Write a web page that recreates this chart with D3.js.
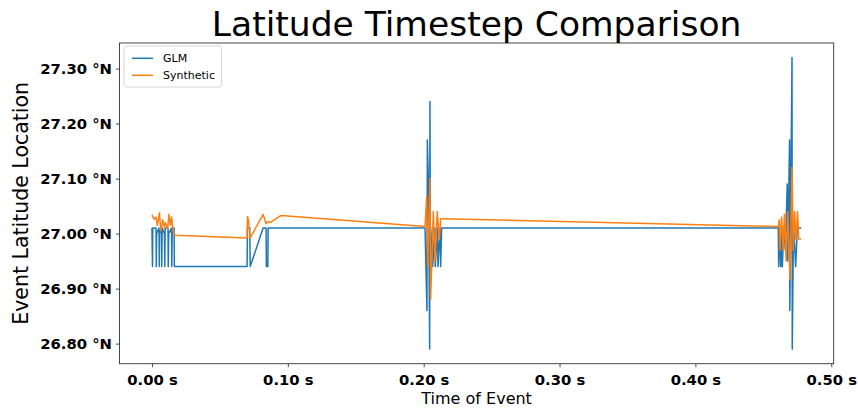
<!DOCTYPE html>
<html>
<head>
<meta charset="utf-8">
<script src="https://cdn.jsdelivr.net/npm/d3@7"></script>
<style>
  html, body { margin: 0; padding: 0; background: #fff; }
  svg { display: block; font-family: "DejaVu Sans", sans-serif; }
</style>
</head>
<body>
<svg id="chart" width="858" height="411"></svg>
<script>
// ---- data ----
const glmTime = [
  0.0000, 0.0004, 0.0006, 0.0030, 0.0032, 0.0034, 0.0052, 0.0054, 0.0056, 0.0070,
  0.0072, 0.0075, 0.0092, 0.0094, 0.0097, 0.0118, 0.0120, 0.0123, 0.0144, 0.0146,
  0.0149, 0.0163, 0.0165, 0.0700, 0.0703, 0.0720, 0.0723, 0.0818, 0.0840, 0.0842,
  0.0853, 0.0855,
  0.2010, 0.2024, 0.2027, 0.2036, 0.2044, 0.2046, 0.2050, 0.2064, 0.2066, 0.2083,
  0.2085, 0.2103, 0.2105, 0.2123, 0.2125, 0.2132,
  0.4610, 0.4613, 0.4620, 0.4628, 0.4635, 0.4640, 0.4650, 0.4662, 0.4676, 0.4680,
  0.4693, 0.4695, 0.4711, 0.4713, 0.4722, 0.4738, 0.4750, 0.4779
];
const glmLat = [
  27.01, 26.94, 27.01, 27.01, 26.94, 27.00, 27.01, 26.94, 27.00, 27.01,
  26.94, 27.01, 27.00, 26.94, 27.01, 27.01, 26.94, 27.00, 27.01, 26.94,
  27.01, 27.01, 26.94, 26.94, 27.01, 27.01, 26.94, 27.01, 27.01, 26.94,
  26.94, 27.01,
  27.01, 26.86, 27.17, 27.08, 26.79, 27.24, 26.94, 27.01, 26.94, 27.01,
  26.94, 27.01, 26.94, 27.01, 26.94, 27.01,
  27.01, 26.94, 27.01, 26.94, 27.00, 26.94, 27.01, 26.97, 27.09, 26.95,
  27.17, 26.86, 27.32, 26.79, 27.02, 26.94, 27.01, 27.01
];
const synTime = [
  0.0000, 0.0015, 0.0030, 0.0040, 0.0055, 0.0065, 0.0080, 0.0090, 0.0100, 0.0115,
  0.0125, 0.0135, 0.0145, 0.0155, 0.0170, 0.0700, 0.0703, 0.0712, 0.0723, 0.0818,
  0.0840, 0.0855, 0.0870, 0.0950,
  0.2010, 0.2022, 0.2029, 0.2046, 0.2051, 0.2071, 0.2083, 0.2100, 0.2115, 0.2125,
  0.2132,
  0.4610, 0.4618, 0.4622, 0.4635, 0.4645, 0.4655, 0.4668, 0.4680, 0.4696, 0.4711,
  0.4720, 0.4730, 0.4740, 0.4752, 0.4760, 0.4779
];
const synLat = [
  27.034, 27.026, 27.030, 27.015, 27.038, 27.005, 27.025, 27.012, 27.020, 27.008,
  27.035, 27.015, 27.030, 27.005, 26.997, 26.992, 27.031, 27.022, 26.992, 27.035,
  27.018, 27.022, 27.020, 27.033,
  27.013, 27.068, 26.940, 27.100, 26.880, 27.040, 26.950, 27.040, 26.990, 27.027,
  27.027,
  27.013, 27.025, 26.970, 27.030, 26.970, 27.035, 26.950, 27.040, 26.916, 27.120,
  26.970, 27.040, 26.990, 27.040, 26.990, 26.990
];
const xTicks = [0.0, 0.1, 0.2, 0.3, 0.4, 0.5];
const yTicks = [26.8, 26.9, 27.0, 27.1, 27.2, 27.3];
const seriesNames = ["GLM", "Synthetic"];
const seriesColors = ["#1f77b4", "#ff7f0e"];

// ---- layout ----
const W = 858, H = 411;
const L = 119.5, R = 833.7, T = 43, B = 363.7;
const svg = d3.select("#chart");

const series = [
  { name: seriesNames[0], color: seriesColors[0], pts: glmTime.map((t, i) => [t, glmLat[i]]) },
  { name: seriesNames[1], color: seriesColors[1], pts: synTime.map((t, i) => [t, synLat[i]]) }
];
const allT = glmTime.concat(synTime), allY = glmLat.concat(synLat);
const [tMin, tMax] = d3.extent(allT), [yMin, yMax] = d3.extent(allY);
const padT = (tMax - tMin) * 0.05, padY = (yMax - yMin) * 0.05;

const x = d3.scaleLinear().domain([tMin - padT, tMax + padT]).range([L, R]);
const y = d3.scaleLinear().domain([yMin - padY, yMax + padY]).range([B, T]);

// lines
const line = d3.line().x(d => x(d[0])).y(d => y(d[1]));
const plot = svg.append("g");
series.forEach(s => {
  plot.append("path").datum(s.pts)
    .attr("d", line)
    .attr("fill", "none")
    .attr("stroke", s.color)
    .attr("stroke-width", 1.5)
    .attr("stroke-linejoin", "round");
});

// axes
const xAxis = d3.axisBottom(x).tickValues(xTicks).tickSize(3.5).tickPadding(4)
  .tickFormat(d => d3.format(".2f")(d) + " s");
const yAxis = d3.axisLeft(y).tickValues(yTicks).tickSize(3.5).tickPadding(4)
  .tickFormat(d => d3.format(".2f")(d) + " °N");

const gx = svg.append("g").attr("transform", `translate(0,${B})`).call(xAxis);
const gy = svg.append("g").attr("transform", `translate(${L},0)`).call(yAxis);
[gx, gy].forEach(g => {
  g.select(".domain").remove();
  g.selectAll(".tick line").attr("stroke", "#333").attr("stroke-width", 0.9);
  g.selectAll(".tick text")
    .attr("fill", "#000")
    .style("font-family", "'DejaVu Sans', sans-serif")
    .style("font-weight", "bold")
    .style("font-size", "14.8px");
});
gx.selectAll(".tick text").attr("dy", "0.95em");

// frame
svg.append("rect")
  .attr("x", L).attr("y", T).attr("width", R - L).attr("height", B - T)
  .attr("fill", "none").attr("stroke", "#333").attr("stroke-width", 0.9);

// title & labels
svg.append("text")
  .attr("x", (L + R) / 2).attr("y", 36)
  .attr("text-anchor", "middle")
  .style("font-size", "34.5px")
  .text("Latitude Timestep Comparison");

svg.append("text")
  .attr("x", (L + R) / 2).attr("y", 404)
  .attr("text-anchor", "middle")
  .style("font-size", "16px")
  .text("Time of Event");

svg.append("text")
  .attr("transform", `translate(28,${(T + B) / 2}) rotate(-90)`)
  .attr("text-anchor", "middle")
  .style("font-size", "20.5px")
  .text("Event Latitude Location");

// legend
const lg = svg.append("g").attr("transform", "translate(124,46)");
lg.append("rect")
  .attr("width", 97.5).attr("height", 41).attr("rx", 2.5)
  .attr("fill", "#fff").attr("fill-opacity", 0.8)
  .attr("stroke", "#d0d0d0").attr("stroke-width", 0.9);
series.forEach((s, i) => {
  const yy = 12.3 + i * 17;
  lg.append("line").attr("x1", 8).attr("x2", 29).attr("y1", yy).attr("y2", yy)
    .attr("stroke", s.color).attr("stroke-width", 1.5);
  lg.append("text").attr("x", 39).attr("y", yy + 4)
    .style("font-size", "11px").text(s.name);
});
</script>
</body>
</html>
